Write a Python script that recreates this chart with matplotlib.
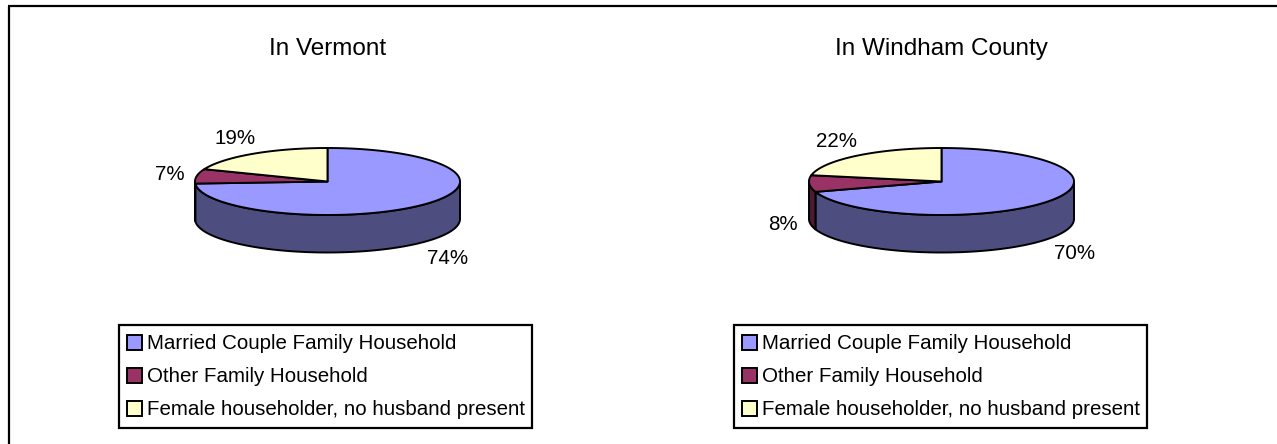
import numpy as np
import matplotlib
matplotlib.use("Agg")
import matplotlib.pyplot as plt
from matplotlib.patches import Polygon, Rectangle

plt.rcParams['font.family'] = ['Liberation Sans', 'DejaVu Sans']

W, H = 1277, 444

titles = ['In Vermont', 'In Windham County']
categories = ['Married Couple Family Household',
              'Other Family Household',
              'Female householder, no husband present']
vermont_pct = [74, 7, 19]
windham_pct = [70, 8, 22]

top_colors = ['#9999FF', '#993366', '#FFFFCC']
side_colors = ['#4D4D80', '#4D1A33', '#808066']

# geometry, in pixels (y grows downwards)
PIE_CENTERS = [(327.5, 181.5), (941.5, 181.5)]
RX, RY, DEPTH = 132.5, 33.5, 37.5
LABEL_GAP = 12
LEGEND_X = [119, 734]
LEGEND_TOP, LEGEND_W, LEGEND_H = 325, 413, 103
ROW_Y = [342, 375, 408]
LW = 1.4
SMALL = 14.8


def ellipse_pts(cx, cy, a0, a1, n=150):
    th = np.radians(np.linspace(a0, a1, n))
    return cx + RX * np.cos(th), cy - RY * np.sin(th)


def draw_pie(ax, renderer, cx, cy, values):
    total = float(sum(values))
    start = 90.0
    slices = []
    for v in values:
        span = 360.0 * v / total
        slices.append((start - span, start))
        start -= span

    # side wall, only the front half is visible
    for (a0, a1), col in zip(slices, side_colors):
        for k in (-1, 0, 1):
            lo = max(a0, 180 + 360 * k)
            hi = min(a1, 360 + 360 * k)
            if hi <= lo:
                continue
            x, y = ellipse_pts(cx, cy, lo, hi)
            xs = np.concatenate([x, x[::-1]])
            ys = np.concatenate([y, y[::-1] + DEPTH])
            ax.add_patch(Polygon(np.column_stack([xs, ys]), closed=True,
                                 fc=col, ec='black', lw=LW, joinstyle='round'))

    # top faces
    for (a0, a1), col in zip(slices, top_colors):
        x, y = ellipse_pts(cx, cy, a0, a1)
        xs = np.concatenate([[cx], x])
        ys = np.concatenate([[cy], y])
        ax.add_patch(Polygon(np.column_stack([xs, ys]), closed=True,
                             fc=col, ec='black', lw=LW, joinstyle='round'))

    # percent labels just outside each slice
    for (a0, a1), v in zip(slices, values):
        mid = np.radians((a0 + a1) / 2)
        c, s = np.cos(mid), np.sin(mid)
        px = cx + RX * c
        py = cy - RY * s
        if s < 0:
            py += DEPTH
        t = ax.text(0, 0, f'{v}%', ha='center', va='center', fontsize=SMALL)
        bb = t.get_window_extent(renderer=renderer)
        t.set_position((px + c * (LABEL_GAP + bb.width / 2),
                        py - s * (LABEL_GAP + bb.height / 2) + 2))


def draw_legend(ax, x0):
    ax.add_patch(Rectangle((x0, LEGEND_TOP), LEGEND_W, LEGEND_H,
                           fc='white', ec='black', lw=1.6))
    for label, col, ry in zip(categories, top_colors, ROW_Y):
        ax.add_patch(Rectangle((x0 + 8, ry - 7.5), 15, 15, fc=col,
                               ec='black', lw=1.4))
        ax.text(x0 + 28, ry + 7, label, ha='left', va='baseline',
                fontsize=SMALL)


fig = plt.figure(figsize=(W / 100, H / 100), dpi=100)
ax = fig.add_axes([0, 0, 1, 1])
ax.set_xlim(0, W)
ax.set_ylim(H, 0)
ax.axis('off')
renderer = fig.canvas.get_renderer()

# outer frame (only top and left edges show)
ax.plot([8, W], [6, 6], color='black', lw=1.6, solid_capstyle='butt')
ax.plot([9, 9], [6, H], color='black', lw=1.6, solid_capstyle='butt')

for (cx, cy), title, vals, lx in zip(PIE_CENTERS, titles,
                                     [vermont_pct, windham_pct], LEGEND_X):
    ax.text(cx, 55, title, ha='center', va='baseline', fontsize=17.5)
    draw_pie(ax, renderer, cx, cy, vals)
    draw_legend(ax, lx)

fig.savefig('out.png', dpi=100)
